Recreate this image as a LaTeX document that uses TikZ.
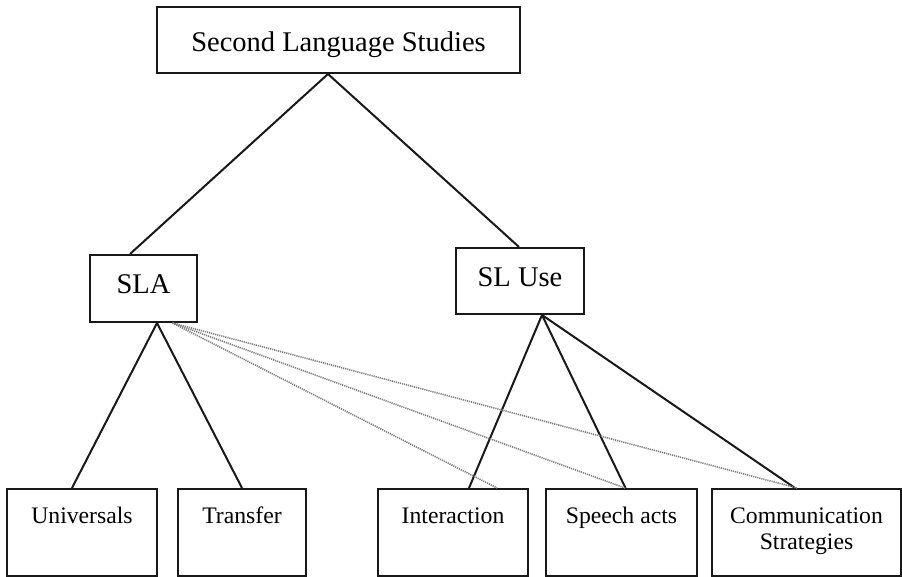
\documentclass[tikz,border=0pt]{standalone}
\usepackage{fontspec}
\setmainfont{Liberation Serif}
\begin{document}
\begin{tikzpicture}[x=1pt,y=-1pt,
  box/.style={draw=black!90, line width=2pt, rectangle, inner xsep=0pt, inner ysep=0pt, align=center, anchor=north},
  bigtext/.style={font=\fontsize{28.5}{32}\selectfont},
  smalltext/.style={font=\fontsize{23.7}{26}\selectfont},
  leaf/.style={box, smalltext, text height=34pt, text depth=53pt},
  tree/.style={draw=black!90, line width=2pt},
  link/.style={draw=black!50, line width=1.6pt, dash pattern=on 1.2pt off 0.9pt}]
\useasboundingbox (0,0) rectangle (902,576);

% upper levels
\node[box, bigtext, minimum width=363pt, text height=44pt, text depth=22pt] (sls) at (338.5,6) {Second Language Studies};
\node[box, bigtext, minimum width=107pt, text height=38pt, text depth=29pt] (sla) at (143.5,254) {SLA};
\node[box, bigtext, minimum width=128pt, text height=38pt, text depth=28pt] (use) at (520,247) {SL Use};

% leaf topics
\node[leaf, minimum width=150pt] (uni) at (82,488) {Universals};
\node[leaf, minimum width=128pt] (tra) at (242,488) {Transfer};
\node[leaf, minimum width=150pt] (int) at (453,488) {Interaction};
\node[leaf, minimum width=151pt] (spe) at (621.5,488) {Speech acts};
\node[box, smalltext, minimum width=189pt, text height=60pt, text depth=27pt] (com) at (806.5,488) {Communication\\Strategies};

% solid hierarchy
\draw[tree] ([xshift=-13.5pt]sla.north) -- ([xshift=-10.5pt]sls.south) -- ([xshift=-1pt]use.north);
\draw[tree] ([xshift=-10pt]uni.north) -- ([xshift=13.5pt]sla.south) -- (tra.north);
\draw[tree] ([xshift=16pt]int.north) -- ([xshift=22pt]use.south) -- ([xshift=4pt]spe.north);
\draw[tree] ([xshift=22pt]use.south) -- ([xshift=-11.5pt]com.north);

% dotted cross links from SLA
\draw[link] ([xshift=29pt]sla.south) -- ([xshift=44pt]int.north);
\draw[link] ([xshift=29pt]sla.south) -- ([xshift=3.5pt]spe.north);
\draw[link] ([xshift=29pt]sla.south) -- ([xshift=-9.5pt]com.north);
\end{tikzpicture}
\end{document}
